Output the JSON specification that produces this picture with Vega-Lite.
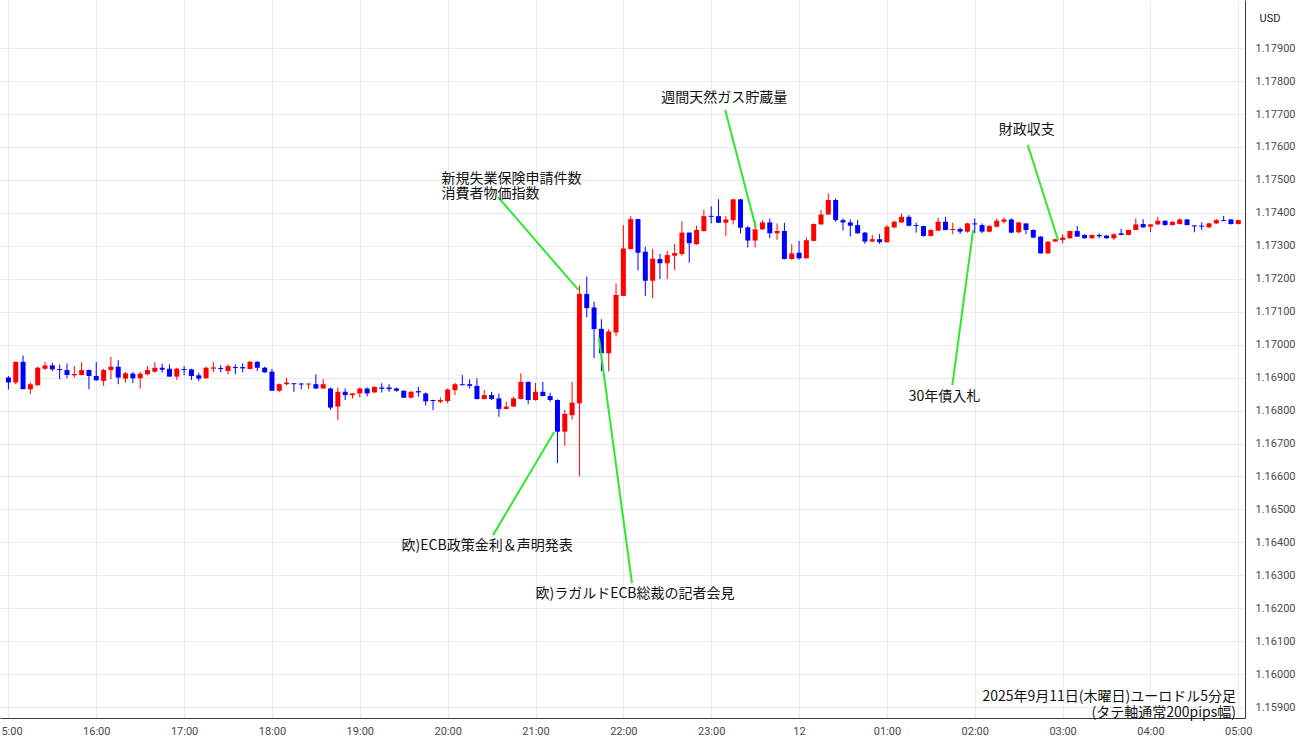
{
  "$schema": "https://vega.github.io/schema/vega-lite/v6.json",
  "width": 1245,
  "height": 718,
  "autosize": {"type": "none"},
  "padding": {"left": 0, "top": 0, "right": 55, "bottom": 27},
  "background": "white",
  "config": {"view": {"stroke": null}},
  "data": {"values": [
    {"t":"2025-09-11T15:00:00Z","o":1.16900,"h":1.16905,"l":1.16864,"c":1.16885},
    {"t":"2025-09-11T15:05:00Z","o":1.16885,"h":1.16948,"l":1.16880,"c":1.16948},
    {"t":"2025-09-11T15:10:00Z","o":1.16948,"h":1.16967,"l":1.16865,"c":1.16865},
    {"t":"2025-09-11T15:15:00Z","o":1.16865,"h":1.16885,"l":1.16850,"c":1.16880},
    {"t":"2025-09-11T15:20:00Z","o":1.16877,"h":1.16933,"l":1.16875,"c":1.16930},
    {"t":"2025-09-11T15:25:00Z","o":1.16927,"h":1.16947,"l":1.16923,"c":1.16937},
    {"t":"2025-09-11T15:30:00Z","o":1.16937,"h":1.16945,"l":1.16920,"c":1.16925},
    {"t":"2025-09-11T15:35:00Z","o":1.16926,"h":1.16940,"l":1.16895,"c":1.16923},
    {"t":"2025-09-11T15:40:00Z","o":1.16923,"h":1.16943,"l":1.16898,"c":1.16908},
    {"t":"2025-09-11T15:45:00Z","o":1.16907,"h":1.16935,"l":1.16900,"c":1.16911},
    {"t":"2025-09-11T15:50:00Z","o":1.16908,"h":1.16947,"l":1.16907,"c":1.16923},
    {"t":"2025-09-11T15:55:00Z","o":1.16923,"h":1.16924,"l":1.16865,"c":1.16905},
    {"t":"2025-09-11T16:00:00Z","o":1.16905,"h":1.16947,"l":1.16890,"c":1.16892},
    {"t":"2025-09-11T16:05:00Z","o":1.16890,"h":1.16927,"l":1.16875,"c":1.16923},
    {"t":"2025-09-11T16:10:00Z","o":1.16923,"h":1.16963,"l":1.16895,"c":1.16933},
    {"t":"2025-09-11T16:15:00Z","o":1.16933,"h":1.16953,"l":1.16880,"c":1.16900},
    {"t":"2025-09-11T16:20:00Z","o":1.16897,"h":1.16917,"l":1.16885,"c":1.16913},
    {"t":"2025-09-11T16:25:00Z","o":1.16912,"h":1.16917,"l":1.16883,"c":1.16898},
    {"t":"2025-09-11T16:30:00Z","o":1.16898,"h":1.16917,"l":1.16867,"c":1.16912},
    {"t":"2025-09-11T16:35:00Z","o":1.16910,"h":1.16935,"l":1.16907,"c":1.16923},
    {"t":"2025-09-11T16:40:00Z","o":1.16918,"h":1.16947,"l":1.16915,"c":1.16930},
    {"t":"2025-09-11T16:45:00Z","o":1.16930,"h":1.16942,"l":1.16915,"c":1.16924},
    {"t":"2025-09-11T16:50:00Z","o":1.16927,"h":1.16940,"l":1.16903,"c":1.16903},
    {"t":"2025-09-11T16:55:00Z","o":1.16903,"h":1.16930,"l":1.16893,"c":1.16927},
    {"t":"2025-09-11T17:00:00Z","o":1.16926,"h":1.16935,"l":1.16907,"c":1.16923},
    {"t":"2025-09-11T17:05:00Z","o":1.16925,"h":1.16927,"l":1.16893,"c":1.16905},
    {"t":"2025-09-11T17:10:00Z","o":1.16907,"h":1.16915,"l":1.16890,"c":1.16897},
    {"t":"2025-09-11T17:15:00Z","o":1.16898,"h":1.16933,"l":1.16898,"c":1.16930},
    {"t":"2025-09-11T17:20:00Z","o":1.16927,"h":1.16947,"l":1.16917,"c":1.16931},
    {"t":"2025-09-11T17:25:00Z","o":1.16929,"h":1.16938,"l":1.16916,"c":1.16926},
    {"t":"2025-09-11T17:30:00Z","o":1.16920,"h":1.16940,"l":1.16910,"c":1.16935},
    {"t":"2025-09-11T17:35:00Z","o":1.16932,"h":1.16940,"l":1.16910,"c":1.16929},
    {"t":"2025-09-11T17:40:00Z","o":1.16932,"h":1.16943,"l":1.16916,"c":1.16928},
    {"t":"2025-09-11T17:45:00Z","o":1.16926,"h":1.16950,"l":1.16926,"c":1.16948},
    {"t":"2025-09-11T17:50:00Z","o":1.16948,"h":1.16950,"l":1.16920,"c":1.16930},
    {"t":"2025-09-11T17:55:00Z","o":1.16930,"h":1.16933,"l":1.16915,"c":1.16916},
    {"t":"2025-09-11T18:00:00Z","o":1.16918,"h":1.16926,"l":1.16860,"c":1.16860},
    {"t":"2025-09-11T18:05:00Z","o":1.16860,"h":1.16882,"l":1.16857,"c":1.16880},
    {"t":"2025-09-11T18:10:00Z","o":1.16880,"h":1.16900,"l":1.16876,"c":1.16885},
    {"t":"2025-09-11T18:15:00Z","o":1.16883,"h":1.16883,"l":1.16857,"c":1.16880},
    {"t":"2025-09-11T18:20:00Z","o":1.16882,"h":1.16884,"l":1.16864,"c":1.16879},
    {"t":"2025-09-11T18:25:00Z","o":1.16879,"h":1.16882,"l":1.16866,"c":1.16882},
    {"t":"2025-09-11T18:30:00Z","o":1.16880,"h":1.16910,"l":1.16866,"c":1.16867},
    {"t":"2025-09-11T18:35:00Z","o":1.16867,"h":1.16895,"l":1.16866,"c":1.16880},
    {"t":"2025-09-11T18:40:00Z","o":1.16867,"h":1.16870,"l":1.16802,"c":1.16809},
    {"t":"2025-09-11T18:45:00Z","o":1.16812,"h":1.16870,"l":1.16771,"c":1.16857},
    {"t":"2025-09-11T18:50:00Z","o":1.16857,"h":1.16867,"l":1.16832,"c":1.16847},
    {"t":"2025-09-11T18:55:00Z","o":1.16847,"h":1.16853,"l":1.16837,"c":1.16852},
    {"t":"2025-09-11T19:00:00Z","o":1.16852,"h":1.16870,"l":1.16840,"c":1.16867},
    {"t":"2025-09-11T19:05:00Z","o":1.16867,"h":1.16870,"l":1.16843,"c":1.16852},
    {"t":"2025-09-11T19:10:00Z","o":1.16855,"h":1.16873,"l":1.16854,"c":1.16872},
    {"t":"2025-09-11T19:15:00Z","o":1.16870,"h":1.16883,"l":1.16855,"c":1.16866},
    {"t":"2025-09-11T19:20:00Z","o":1.16870,"h":1.16880,"l":1.16857,"c":1.16865},
    {"t":"2025-09-11T19:25:00Z","o":1.16867,"h":1.16870,"l":1.16857,"c":1.16860},
    {"t":"2025-09-11T19:30:00Z","o":1.16860,"h":1.16862,"l":1.16838,"c":1.16839},
    {"t":"2025-09-11T19:35:00Z","o":1.16839,"h":1.16859,"l":1.16837,"c":1.16857},
    {"t":"2025-09-11T19:40:00Z","o":1.16859,"h":1.16872,"l":1.16842,"c":1.16855},
    {"t":"2025-09-11T19:45:00Z","o":1.16852,"h":1.16855,"l":1.16815,"c":1.16828},
    {"t":"2025-09-11T19:50:00Z","o":1.16832,"h":1.16833,"l":1.16801,"c":1.16829},
    {"t":"2025-09-11T19:55:00Z","o":1.16827,"h":1.16840,"l":1.16822,"c":1.16832},
    {"t":"2025-09-11T20:00:00Z","o":1.16829,"h":1.16867,"l":1.16822,"c":1.16864},
    {"t":"2025-09-11T20:05:00Z","o":1.16862,"h":1.16884,"l":1.16847,"c":1.16880},
    {"t":"2025-09-11T20:10:00Z","o":1.16880,"h":1.16908,"l":1.16876,"c":1.16877},
    {"t":"2025-09-11T20:15:00Z","o":1.16880,"h":1.16895,"l":1.16867,"c":1.16875},
    {"t":"2025-09-11T20:20:00Z","o":1.16875,"h":1.16898,"l":1.16834,"c":1.16835},
    {"t":"2025-09-11T20:25:00Z","o":1.16835,"h":1.16862,"l":1.16834,"c":1.16847},
    {"t":"2025-09-11T20:30:00Z","o":1.16847,"h":1.16857,"l":1.16832,"c":1.16835},
    {"t":"2025-09-11T20:35:00Z","o":1.16837,"h":1.16852,"l":1.16781,"c":1.16805},
    {"t":"2025-09-11T20:40:00Z","o":1.16805,"h":1.16827,"l":1.16804,"c":1.16812},
    {"t":"2025-09-11T20:45:00Z","o":1.16812,"h":1.16842,"l":1.16811,"c":1.16837},
    {"t":"2025-09-11T20:50:00Z","o":1.16835,"h":1.16913,"l":1.16834,"c":1.16887},
    {"t":"2025-09-11T20:55:00Z","o":1.16887,"h":1.16888,"l":1.16820,"c":1.16832},
    {"t":"2025-09-11T21:00:00Z","o":1.16832,"h":1.16884,"l":1.16830,"c":1.16857},
    {"t":"2025-09-11T21:05:00Z","o":1.16857,"h":1.16887,"l":1.16843,"c":1.16844},
    {"t":"2025-09-11T21:10:00Z","o":1.16844,"h":1.16854,"l":1.16827,"c":1.16832},
    {"t":"2025-09-11T21:15:00Z","o":1.16832,"h":1.16834,"l":1.16640,"c":1.16736},
    {"t":"2025-09-11T21:20:00Z","o":1.16736,"h":1.16802,"l":1.16693,"c":1.16790},
    {"t":"2025-09-11T21:25:00Z","o":1.16786,"h":1.16887,"l":1.16773,"c":1.16824},
    {"t":"2025-09-11T21:30:00Z","o":1.16822,"h":1.17180,"l":1.16600,"c":1.17154},
    {"t":"2025-09-11T21:35:00Z","o":1.17154,"h":1.17207,"l":1.17083,"c":1.17111},
    {"t":"2025-09-11T21:40:00Z","o":1.17113,"h":1.17131,"l":1.16959,"c":1.17047},
    {"t":"2025-09-11T21:45:00Z","o":1.17048,"h":1.17077,"l":1.16919,"c":1.16974},
    {"t":"2025-09-11T21:50:00Z","o":1.16974,"h":1.17047,"l":1.16919,"c":1.17040},
    {"t":"2025-09-11T21:55:00Z","o":1.17037,"h":1.17186,"l":1.17025,"c":1.17151},
    {"t":"2025-09-11T22:00:00Z","o":1.17148,"h":1.17363,"l":1.17148,"c":1.17292},
    {"t":"2025-09-11T22:05:00Z","o":1.17290,"h":1.17390,"l":1.17290,"c":1.17381},
    {"t":"2025-09-11T22:10:00Z","o":1.17381,"h":1.17382,"l":1.17225,"c":1.17279},
    {"t":"2025-09-11T22:15:00Z","o":1.17282,"h":1.17297,"l":1.17148,"c":1.17194},
    {"t":"2025-09-11T22:20:00Z","o":1.17194,"h":1.17290,"l":1.17141,"c":1.17261},
    {"t":"2025-09-11T22:25:00Z","o":1.17260,"h":1.17275,"l":1.17199,"c":1.17247},
    {"t":"2025-09-11T22:30:00Z","o":1.17247,"h":1.17285,"l":1.17199,"c":1.17272},
    {"t":"2025-09-11T22:35:00Z","o":1.17270,"h":1.17306,"l":1.17227,"c":1.17278},
    {"t":"2025-09-11T22:40:00Z","o":1.17275,"h":1.17375,"l":1.17270,"c":1.17340},
    {"t":"2025-09-11T22:45:00Z","o":1.17340,"h":1.17341,"l":1.17249,"c":1.17308},
    {"t":"2025-09-11T22:50:00Z","o":1.17305,"h":1.17361,"l":1.17303,"c":1.17348},
    {"t":"2025-09-11T22:55:00Z","o":1.17345,"h":1.17410,"l":1.17343,"c":1.17390},
    {"t":"2025-09-11T23:00:00Z","o":1.17391,"h":1.17420,"l":1.17368,"c":1.17388},
    {"t":"2025-09-11T23:05:00Z","o":1.17390,"h":1.17441,"l":1.17369,"c":1.17370},
    {"t":"2025-09-11T23:10:00Z","o":1.17370,"h":1.17390,"l":1.17330,"c":1.17380},
    {"t":"2025-09-11T23:15:00Z","o":1.17378,"h":1.17442,"l":1.17365,"c":1.17441},
    {"t":"2025-09-11T23:20:00Z","o":1.17441,"h":1.17442,"l":1.17338,"c":1.17355},
    {"t":"2025-09-11T23:25:00Z","o":1.17356,"h":1.17360,"l":1.17295,"c":1.17316},
    {"t":"2025-09-11T23:30:00Z","o":1.17316,"h":1.17376,"l":1.17295,"c":1.17350},
    {"t":"2025-09-11T23:35:00Z","o":1.17350,"h":1.17378,"l":1.17348,"c":1.17371},
    {"t":"2025-09-11T23:40:00Z","o":1.17371,"h":1.17383,"l":1.17323,"c":1.17338},
    {"t":"2025-09-11T23:45:00Z","o":1.17338,"h":1.17368,"l":1.17318,"c":1.17345},
    {"t":"2025-09-11T23:50:00Z","o":1.17345,"h":1.17370,"l":1.17259,"c":1.17260},
    {"t":"2025-09-11T23:55:00Z","o":1.17260,"h":1.17305,"l":1.17258,"c":1.17277},
    {"t":"2025-09-12T00:00:00Z","o":1.17279,"h":1.17315,"l":1.17258,"c":1.17262},
    {"t":"2025-09-12T00:05:00Z","o":1.17262,"h":1.17326,"l":1.17261,"c":1.17317},
    {"t":"2025-09-12T00:10:00Z","o":1.17315,"h":1.17368,"l":1.17314,"c":1.17366},
    {"t":"2025-09-12T00:15:00Z","o":1.17365,"h":1.17409,"l":1.17364,"c":1.17395},
    {"t":"2025-09-12T00:20:00Z","o":1.17395,"h":1.17459,"l":1.17394,"c":1.17439},
    {"t":"2025-09-12T00:25:00Z","o":1.17439,"h":1.17444,"l":1.17373,"c":1.17378},
    {"t":"2025-09-12T00:30:00Z","o":1.17378,"h":1.17383,"l":1.17346,"c":1.17371},
    {"t":"2025-09-12T00:35:00Z","o":1.17371,"h":1.17380,"l":1.17328,"c":1.17361},
    {"t":"2025-09-12T00:40:00Z","o":1.17363,"h":1.17378,"l":1.17336,"c":1.17338},
    {"t":"2025-09-12T00:45:00Z","o":1.17340,"h":1.17342,"l":1.17306,"c":1.17313},
    {"t":"2025-09-12T00:50:00Z","o":1.17313,"h":1.17333,"l":1.17311,"c":1.17320},
    {"t":"2025-09-12T00:55:00Z","o":1.17320,"h":1.17336,"l":1.17306,"c":1.17311},
    {"t":"2025-09-12T01:00:00Z","o":1.17311,"h":1.17363,"l":1.17310,"c":1.17358},
    {"t":"2025-09-12T01:05:00Z","o":1.17356,"h":1.17376,"l":1.17353,"c":1.17373},
    {"t":"2025-09-12T01:10:00Z","o":1.17371,"h":1.17398,"l":1.17370,"c":1.17388},
    {"t":"2025-09-12T01:15:00Z","o":1.17388,"h":1.17393,"l":1.17359,"c":1.17361},
    {"t":"2025-09-12T01:20:00Z","o":1.17363,"h":1.17370,"l":1.17340,"c":1.17360},
    {"t":"2025-09-12T01:25:00Z","o":1.17360,"h":1.17361,"l":1.17328,"c":1.17330},
    {"t":"2025-09-12T01:30:00Z","o":1.17330,"h":1.17350,"l":1.17328,"c":1.17348},
    {"t":"2025-09-12T01:35:00Z","o":1.17346,"h":1.17385,"l":1.17345,"c":1.17373},
    {"t":"2025-09-12T01:40:00Z","o":1.17373,"h":1.17388,"l":1.17347,"c":1.17348},
    {"t":"2025-09-12T01:45:00Z","o":1.17348,"h":1.17370,"l":1.17335,"c":1.17351},
    {"t":"2025-09-12T01:50:00Z","o":1.17351,"h":1.17356,"l":1.17336,"c":1.17343},
    {"t":"2025-09-12T01:55:00Z","o":1.17343,"h":1.17370,"l":1.17340,"c":1.17368},
    {"t":"2025-09-12T02:00:00Z","o":1.17368,"h":1.17383,"l":1.17338,"c":1.17365},
    {"t":"2025-09-12T02:05:00Z","o":1.17363,"h":1.17368,"l":1.17338,"c":1.17343},
    {"t":"2025-09-12T02:10:00Z","o":1.17343,"h":1.17363,"l":1.17341,"c":1.17360},
    {"t":"2025-09-12T02:15:00Z","o":1.17358,"h":1.17383,"l":1.17356,"c":1.17376},
    {"t":"2025-09-12T02:20:00Z","o":1.17373,"h":1.17386,"l":1.17368,"c":1.17380},
    {"t":"2025-09-12T02:25:00Z","o":1.17380,"h":1.17383,"l":1.17338,"c":1.17340},
    {"t":"2025-09-12T02:30:00Z","o":1.17341,"h":1.17373,"l":1.17338,"c":1.17371},
    {"t":"2025-09-12T02:35:00Z","o":1.17368,"h":1.17368,"l":1.17335,"c":1.17348},
    {"t":"2025-09-12T02:40:00Z","o":1.17348,"h":1.17350,"l":1.17323,"c":1.17325},
    {"t":"2025-09-12T02:45:00Z","o":1.17328,"h":1.17329,"l":1.17277,"c":1.17277},
    {"t":"2025-09-12T02:50:00Z","o":1.17277,"h":1.17313,"l":1.17276,"c":1.17313},
    {"t":"2025-09-12T02:55:00Z","o":1.17313,"h":1.17321,"l":1.17312,"c":1.17320},
    {"t":"2025-09-12T03:00:00Z","o":1.17318,"h":1.17335,"l":1.17307,"c":1.17325},
    {"t":"2025-09-12T03:05:00Z","o":1.17323,"h":1.17346,"l":1.17322,"c":1.17345},
    {"t":"2025-09-12T03:10:00Z","o":1.17345,"h":1.17360,"l":1.17327,"c":1.17328},
    {"t":"2025-09-12T03:15:00Z","o":1.17333,"h":1.17335,"l":1.17322,"c":1.17323},
    {"t":"2025-09-12T03:20:00Z","o":1.17323,"h":1.17334,"l":1.17322,"c":1.17333},
    {"t":"2025-09-12T03:25:00Z","o":1.17333,"h":1.17338,"l":1.17323,"c":1.17329},
    {"t":"2025-09-12T03:30:00Z","o":1.17331,"h":1.17332,"l":1.17322,"c":1.17323},
    {"t":"2025-09-12T03:35:00Z","o":1.17323,"h":1.17338,"l":1.17318,"c":1.17335},
    {"t":"2025-09-12T03:40:00Z","o":1.17338,"h":1.17351,"l":1.17332,"c":1.17333},
    {"t":"2025-09-12T03:45:00Z","o":1.17333,"h":1.17349,"l":1.17332,"c":1.17348},
    {"t":"2025-09-12T03:50:00Z","o":1.17348,"h":1.17383,"l":1.17347,"c":1.17365},
    {"t":"2025-09-12T03:55:00Z","o":1.17366,"h":1.17381,"l":1.17355,"c":1.17356},
    {"t":"2025-09-12T04:00:00Z","o":1.17358,"h":1.17366,"l":1.17341,"c":1.17365},
    {"t":"2025-09-12T04:05:00Z","o":1.17365,"h":1.17388,"l":1.17363,"c":1.17376},
    {"t":"2025-09-12T04:10:00Z","o":1.17376,"h":1.17378,"l":1.17361,"c":1.17363},
    {"t":"2025-09-12T04:15:00Z","o":1.17363,"h":1.17374,"l":1.17362,"c":1.17373},
    {"t":"2025-09-12T04:20:00Z","o":1.17366,"h":1.17383,"l":1.17365,"c":1.17380},
    {"t":"2025-09-12T04:25:00Z","o":1.17380,"h":1.17381,"l":1.17362,"c":1.17363},
    {"t":"2025-09-12T04:30:00Z","o":1.17362,"h":1.17362,"l":1.17341,"c":1.17359},
    {"t":"2025-09-12T04:35:00Z","o":1.17361,"h":1.17371,"l":1.17348,"c":1.17358},
    {"t":"2025-09-12T04:40:00Z","o":1.17356,"h":1.17369,"l":1.17355,"c":1.17368},
    {"t":"2025-09-12T04:45:00Z","o":1.17368,"h":1.17381,"l":1.17366,"c":1.17378},
    {"t":"2025-09-12T04:50:00Z","o":1.17378,"h":1.17391,"l":1.17375,"c":1.17375},
    {"t":"2025-09-12T04:55:00Z","o":1.17380,"h":1.17381,"l":1.17365,"c":1.17366},
    {"t":"2025-09-12T05:00:00Z","o":1.17366,"h":1.17379,"l":1.17365,"c":1.17378}
  ]},
  "layer": [
    {
      "mark": {"type": "rule", "strokeWidth": 1, "clip": true},
      "encoding": {
        "x": {
          "field": "t", "type": "temporal",
          "scale": {"type": "utc", "domain": [1757602660000, 1757653270000]},
          "axis": {
            "orient": "bottom", "title": null, "tickCount": 40,
            "values": [1757602800000, 1757606400000, 1757610000000, 1757613600000, 1757617200000, 1757620800000, 1757624400000, 1757628000000, 1757631600000, 1757635200000, 1757638800000, 1757642400000, 1757646000000, 1757649600000, 1757653200000],
            "labelExpr": "utchours(datum.value) == 0 ? '12' : utcFormat(datum.value, '%H:%M')",
            "labelFlush": false, "labelOverlap": false, "ticks": false, "labelPadding": 7,
            "labelFont": "Roboto", "labelFontSize": 11, "labelColor": "#4a4a4a",
            "grid": true, "gridColor": "#e6ebf1", "gridWidth": 1,
            "domainColor": "#3a3a3a", "domainWidth": 1
          }
        },
        "y": {"field": "l", "type": "quantitative",
          "scale": {"domain": [1.15867, 1.18046], "nice": false, "zero": false},
          "axis": {
            "orient": "right", "title": "USD", "titleAngle": 0, "titleX": 14, "titleY": 18,
            "titleAlign": "left", "titleBaseline": "middle", "titleFont": "Roboto", "titleFontSize": 11,
            "titleFontWeight": "normal", "titleColor": "#222222", "tickCount": 40,
            "values": [1.159,1.160,1.161,1.162,1.163,1.164,1.165,1.166,1.167,1.168,1.169,1.170,1.171,1.172,1.173,1.174,1.175,1.176,1.177,1.178,1.179],
            "format": ".5f", "ticks": false, "labelPadding": 10, "labelOverlap": false, "labelFlush": false,
            "labelFont": "Roboto", "labelFontSize": 11, "labelColor": "#4a4a4a",
            "grid": true, "gridColor": "#e6ebf1", "gridWidth": 1,
            "domainColor": "#3a3a3a", "domainWidth": 1
          }},
        "y2": {"field": "h"},
        "color": {"condition": {"test": "datum.c >= datum.o", "value": "#ff0000"}, "value": "#0000ff"}
      }
    },
    {
      "mark": {"type": "bar", "width": 5, "clip": true},
      "encoding": {
        "x": {"field": "t", "type": "temporal"},
        "y": {"field": "o", "type": "quantitative"},
        "y2": {"field": "c"},
        "color": {"condition": {"test": "datum.c >= datum.o", "value": "#ff0000"}, "value": "#0000ff"}
      }
    },
    {
      "data": {"values": [
        {"t":"2025-09-11T20:34:25Z","p":1.17448,"t2":"2025-09-11T21:29:18Z","p2":1.17166},
        {"t":"2025-09-11T23:09:34Z","p":1.17712,"t2":"2025-09-11T23:30:34Z","p2":1.17354},
        {"t":"2025-09-12T02:36:13Z","p":1.17606,"t2":"2025-09-12T02:56:56Z","p2":1.17317},
        {"t":"2025-09-12T01:44:42Z","p":1.16877,"t2":"2025-09-12T01:58:55Z","p2":1.17348},
        {"t":"2025-09-11T20:31:01Z","p":1.16422,"t2":"2025-09-11T21:12:46Z","p2":1.16735},
        {"t":"2025-09-11T22:05:53Z","p":1.16276,"t2":"2025-09-11T21:43:16Z","p2":1.17022}
      ]},
      "mark": {"type": "rule", "color": "#2ee82e", "strokeWidth": 2},
      "encoding": {
        "x": {"field": "t", "type": "temporal"},
        "x2": {"field": "t2"},
        "y": {"field": "p", "type": "quantitative"},
        "y2": {"field": "p2"}
      }
    },
    {
      "data": {"values": [
        {"t":"2025-09-11T19:55:48Z","p":1.17504,"label":["新規失業保険申請件数","消費者物価指数"]}
      ]},
      "mark": {"type": "text", "font": "Noto Sans CJK JP", "fontSize": 14, "lineHeight": 15, "color": "#111111", "baseline": "middle", "align": "left"},
      "encoding": {
        "x": {"field": "t", "type": "temporal"},
        "y": {"field": "p", "type": "quantitative"},
        "text": {"field": "label"}
      }
    },
    {
      "data": {"values": [
        {"t":"2025-09-11T23:08:53Z","p":1.17748,"label":"週間天然ガス貯蔵量"},
        {"t":"2025-09-12T02:35:32Z","p":1.17651,"label":"財政収支"},
        {"t":"2025-09-12T01:39:18Z","p":1.16841,"label":"30年債入札"},
        {"t":"2025-09-11T20:26:58Z","p":1.16389,"label":"欧)ECB政策金利＆声明発表"},
        {"t":"2025-09-11T22:07:55Z","p":1.16243,"label":"欧)ラガルドECB総裁の記者会見"}
      ]},
      "mark": {"type": "text", "font": "Noto Sans CJK JP", "fontSize": 14, "color": "#111111", "baseline": "middle", "align": "center"},
      "encoding": {
        "x": {"field": "t", "type": "temporal"},
        "y": {"field": "p", "type": "quantitative"},
        "text": {"field": "label"}
      }
    },
    {
      "data": {"values": [
        {"t":"2025-09-12T04:58:30Z","p":1.15932,"label":["2025年9月11日(木曜日)ユーロドル5分足","(タテ軸通常200pips幅)"]}
      ]},
      "mark": {"type": "text", "font": "Noto Sans CJK JP", "fontSize": 14, "lineHeight": 16, "color": "#111111", "baseline": "middle", "align": "right"},
      "encoding": {
        "x": {"field": "t", "type": "temporal"},
        "y": {"field": "p", "type": "quantitative"},
        "text": {"field": "label"}
      }
    }
  ]
}
